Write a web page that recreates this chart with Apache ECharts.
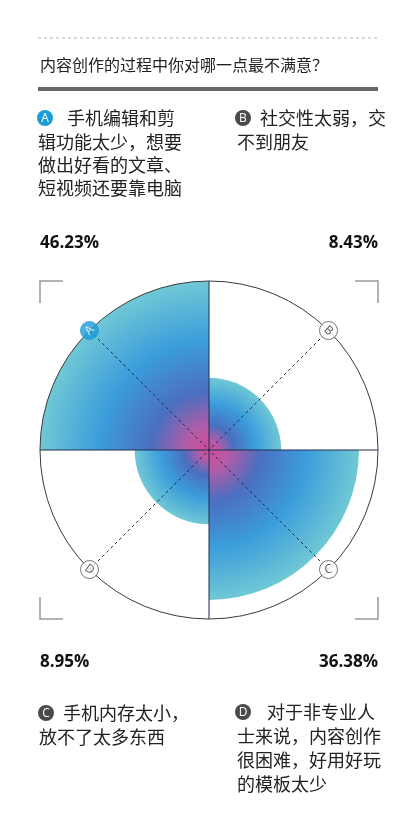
<!DOCTYPE html>
<html><head><meta charset="utf-8">
<script src="https://cdn.jsdelivr.net/npm/echarts@6/dist/echarts.min.js"></script>
<style>html,body{margin:0;padding:0;background:#fff}#c{width:418px;height:833px}</style>
</head><body><div id="c"></div>
<script>
const categories = ['A', 'B', 'C', 'D'];
const values = [46.23, 8.43, 36.38, 8.95];
const title = '内容创作的过程中你对哪一点最不满意？';
const descA = ['手机编辑和剪', '辑功能太少，想要', '做出好看的文章、', '短视频还要靠电脑'];
const descB = ['社交性太弱，交', '不到朋友'];
const descC = ['手机内存太小，', '放不了太多东西'];
const descD = ['对于非专业人', '士来说，内容创作', '很困难，好用好玩', '的模板太少'];

const CJK = '"Noto Sans CJK SC", "Noto Sans", sans-serif';
const maxV = Math.max(...values);
const rMax = Math.sqrt(maxV);
// gradient anchor (corner of quadrant bounding box nearest the center)
const anchors = [[1, 1], [0, 1], [0, 0], [1, 0]];
const stops = [
  { offset: 0, color: '#cf4d98' },
  { offset: 0.13, color: '#b65ba6' },
  { offset: 0.34, color: '#4b6fc0' },
  { offset: 0.64, color: '#3b9cdb' },
  { offset: 1, color: '#70c8d5' }
];
const chart = echarts.init(document.getElementById('c'), null, { renderer: 'canvas' });

function txt(x, y, s, extra) {
  return { type: 'text', x: x, y: y, style: Object.assign({
    text: s, fill: '#222', font: '18px ' + CJK, verticalAlign: 'middle'
  }, extra || {}) };
}
function badge(cx, cy, letter, color) {
  return [
    { type: 'circle', shape: { cx: cx, cy: cy, r: 8 }, style: { fill: color } },
    { type: 'text', x: cx, y: cy + 0.5, style: { text: letter, fill: '#fff', font: '12px "Open Sans", sans-serif', align: 'center', verticalAlign: 'middle' } }
  ];
}
function pct(v) { return v.toFixed(2) + '%'; }
const pctFont = 'bold 17px "Open Sans", sans-serif';

const graphics = [
  { type: 'line', shape: { x1: 38, y1: 38, x2: 378, y2: 38 }, style: { stroke: '#b5b5b5', lineWidth: 1, lineDash: [3, 3] } },
  txt(40, 65, title, { font: '16px ' + CJK }),
  { type: 'line', shape: { x1: 38, y1: 89, x2: 378, y2: 89 }, style: { stroke: '#666', lineWidth: 4 } },
  ...badge(45, 118, 'A', '#1b9bd7'),
  txt(67, 118, descA[0]),
  txt(38, 142, descA[1]), txt(38, 165, descA[2]), txt(38, 188, descA[3]),
  ...badge(243, 118, 'B', '#4a4a4a'),
  txt(260, 118, descB[0]), txt(237, 142, descB[1]),
  ...badge(46, 713, 'C', '#4a4a4a'),
  txt(63, 713, descC[0]), txt(39, 737, descC[1]),
  ...badge(243, 712, 'D', '#4a4a4a'),
  txt(267, 712, descD[0]), txt(237, 736, descD[1]), txt(237, 760, descD[2]), txt(237, 784, descD[3]),
  txt(40, 243, pct(values[0]), { font: pctFont, fill: '#111' }),
  txt(378, 243, pct(values[1]), { font: pctFont, fill: '#111', align: 'right' }),
  txt(40, 662, pct(values[3]), { font: pctFont, fill: '#111' }),
  txt(378, 662, pct(values[2]), { font: pctFont, fill: '#111', align: 'right' }),
  { type: 'polyline', shape: { points: [[40, 303], [40, 281], [63, 281]] }, style: { stroke: '#999', lineWidth: 1.5, fill: null } },
  { type: 'polyline', shape: { points: [[355, 281], [378, 281], [378, 303]] }, style: { stroke: '#999', lineWidth: 1.5, fill: null } },
  { type: 'polyline', shape: { points: [[40, 597], [40, 619], [63, 619]] }, style: { stroke: '#999', lineWidth: 1.5, fill: null } },
  { type: 'polyline', shape: { points: [[355, 619], [378, 619], [378, 597]] }, style: { stroke: '#999', lineWidth: 1.5, fill: null } }
];

const markerRot = [45, -40, 10, -35];

chart.setOption({
  animation: false,
  polar: [
    { center: [209, 450], radius: 169 },
    { center: [209, 450], radius: 169 }
  ],
  angleAxis: [
    { polarIndex: 0, type: 'category', data: categories, startAngle: 180, clockwise: true, boundaryGap: true, z: 10,
      axisLine: { show: true, lineStyle: { color: '#3a3a3a', width: 1 } },
      axisTick: { show: false }, axisLabel: { show: false },
      splitLine: { show: true, lineStyle: { color: '#1e2c50', width: 1 } } },
    { polarIndex: 1, type: 'value', min: 0, max: 360, interval: 90, startAngle: 135, z: 11,
      axisLine: { show: false }, axisTick: { show: false }, axisLabel: { show: false },
      splitLine: { show: true, lineStyle: { color: '#1e2c50', width: 1, type: [3, 3] } } }
  ],
  radiusAxis: [
    { polarIndex: 0, min: 0, max: rMax, axisLine: { show: false }, axisTick: { show: false }, axisLabel: { show: false }, splitLine: { show: false } },
    { polarIndex: 1, min: 0, max: rMax, axisLine: { show: false }, axisTick: { show: false }, axisLabel: { show: false }, splitLine: { show: false } }
  ],
  series: [
    {
      type: 'bar', coordinateSystem: 'polar', polarIndex: 0, barCategoryGap: '0%', z: 2,
      data: values.map((v, i) => ({
        value: Math.sqrt(v),
        itemStyle: { color: new echarts.graphic.RadialGradient(anchors[i][0], anchors[i][1], 1, stops) }
      }))
    },
    {
      type: 'scatter', coordinateSystem: 'polar', polarIndex: 0, z: 20, symbol: 'circle', symbolSize: 18,
      data: categories.map((c, i) => ({
        value: [rMax, c],
        itemStyle: i === 0 ? { color: '#1b9bd7', borderColor: '#1b9bd7', borderWidth: 1 } : { color: '#fff', borderColor: '#555', borderWidth: 1 },
        label: { show: true, formatter: c, rotate: markerRot[i], color: i === 0 ? '#fff' : '#333', fontSize: 12, fontFamily: 'Open Sans, sans-serif' }
      })),
      label: { show: true, position: 'inside' }
    }
  ],
  graphic: { elements: graphics }
});
</script></body></html>
